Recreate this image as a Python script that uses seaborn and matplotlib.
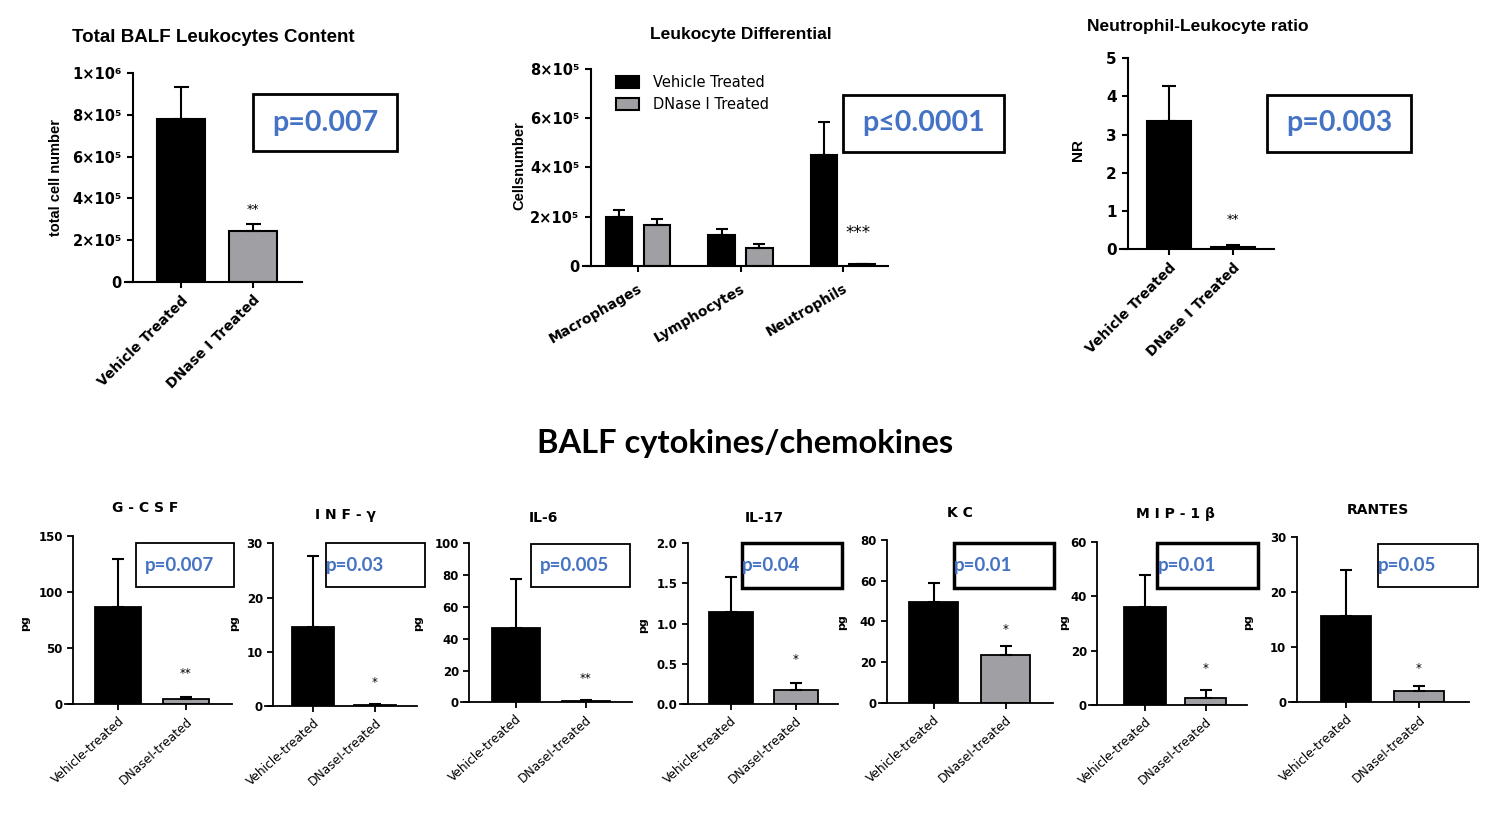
import matplotlib
matplotlib.use('Agg')
import numpy as np
import pandas as pd
import matplotlib.pyplot as plt
import seaborn as sns
from matplotlib.patches import Rectangle

# ------------------------------------------------------------------ data
groups = ['Vehicle Treated', 'DNase I Treated']
total_mean = [7.8e5, 2.45e5]
total_sem = [1.55e5, 0.31e5]
total_ticklabels = ['0', '2×10⁵', '4×10⁵', '6×10⁵', '8×10⁵', '1×10⁶']

cell_types = ['Macrophages', 'Lymphocytes', 'Neutrophils']
diff_vehicle = [2.0e5, 1.26e5, 4.5e5]
diff_vehicle_sem = [0.27e5, 0.25e5, 1.34e5]
diff_dnase = [1.67e5, 0.71e5, 0.05e5]
diff_dnase_sem = [0.22e5, 0.16e5, 0.03e5]
diff_ticklabels = ['0', '2×10⁵', '4×10⁵', '6×10⁵', '8×10⁵']

nr_mean = [3.36, 0.06]
nr_sem = [0.91, 0.04]

cyto_titles = ['G - C S F', 'I N F - γ', 'IL-6', 'IL-17', 'K C', 'M I P - 1 β', 'RANTES']
cyto_groups = ['Vehicle-treated', 'DNaseI-treated']
cyto_vehicle = [86.4, 14.6, 46.5, 1.15, 49.7, 36.0, 15.7]
cyto_vehicle_sem = [43.1, 13.1, 31.2, 0.43, 9.3, 11.9, 8.35]
cyto_dnase = [4.5, 0.2, 1.0, 0.17, 23.6, 2.5, 2.1]
cyto_dnase_sem = [2.0, 0.15, 0.5, 0.09, 4.3, 3.0, 0.86]
cyto_ymax = [150, 30, 100, 2.0, 80, 60, 30]
cyto_ystep = [50, 10, 20, 0.5, 20, 20, 10]
cyto_p = ['p=0.007', 'p=0.03', 'p=0.005', 'p=0.04', 'p=0.01', 'p=0.01', 'p=0.05']
cyto_stars = ['**', '*', '**', '*', '*', '*', '*']

BLACK = '#000000'
GRAY = '#a0a0a4'
PBLUE = '#4472c4'

W, H = 1500, 819

sns.set_style('ticks')
plt.rcParams['font.family'] = ['DejaVu Sans']
plt.rcParams['axes.linewidth'] = 1.5
for key in ['text.color', 'axes.labelcolor', 'xtick.color', 'ytick.color', 'axes.edgecolor']:
    plt.rcParams[key] = 'black'

fig = plt.figure(figsize=(W / 100, H / 100), dpi=100)


#************************************************** helpers *************************************************

def make_axes(yaxis_x, c0, s, x1, top, zero):
    '''axes placed in pixel coords, x-axis starts a little left of the y-axis'''
    x0 = yaxis_x - 8
    return fig.add_axes([x0 / W, 1 - zero / H, (x1 - x0) / W, (zero - top) / H])


def frame(ax, yaxis_x, c0, s, x1, top, zero, n=2):
    '''set x limits after seaborn so that bars sit where the reference has them'''
    x0 = yaxis_x - 8
    ax.set_xlim(-(c0 - x0) / s, n - 1 + (x1 - (c0 + s * (n - 1))) / s)
    sns.despine(ax=ax)
    ax.spines['left'].set_position(('data', -(c0 - yaxis_x) / s))
    ax.tick_params(length=4.5, width=1.5, color='black')


def p_box(x0, y0, x1, y1, text, size, lw, tx=None):
    fig.add_artist(Rectangle((x0 / W, 1 - y1 / H), (x1 - x0) / W, (y1 - y0) / H,
                             transform=fig.transFigure, fill=False, edgecolor='black', lw=lw))
    if tx is None:
        fig.text((x0 + x1) / 2 / W, 1 - (y0 + y1) / 2 / H, text, ha='center', va='center',
                 color=PBLUE, fontsize=size, fontweight='bold', family=['Lato', 'DejaVu Sans'])
    else:
        fig.text(tx / W, 1 - (y0 + y1) / 2 / H, text, ha='left', va='center',
                 color=PBLUE, fontsize=size, fontweight='bold', family=['Lato', 'DejaVu Sans'])


def ftext(x, y, text, **kw):
    fig.text(x / W, 1 - y / H, text, **kw)


def add_errors(ax, means, sems, cap):
    xs = [p.get_x() + p.get_width() / 2 for p in ax.patches[:len(means)]]
    ax.errorbar(xs, means, yerr=[np.zeros(len(means)), sems], fmt='none',
                ecolor='black', elinewidth=1.5, capsize=cap, capthick=1.5, zorder=1)
    return xs


def rotate_xlabels(ax, rot, size, weight):
    ax.set_xlabel('')
    ax.set_ylabel('')
    for lab in ax.get_xticklabels():
        lab.set_rotation(rot)
        lab.set_ha('right')
        lab.set_rotation_mode('anchor')
        lab.set_fontsize(size)
        lab.set_fontweight(weight)


#************************************************** total leukocytes ****************************************

spec1 = (133, 181, 72, 302, 73, 282)
ax1 = make_axes(*spec1)
df1 = pd.DataFrame({'group': groups, 'value': total_mean})
sns.barplot(data=df1, x='group', y='value', hue='group', palette=[BLACK, GRAY],
            width=0.67, edgecolor='black', linewidth=1.5, legend=False, ax=ax1)
xs = add_errors(ax1, total_mean, total_sem, 5.4)
frame(ax1, *spec1)
ax1.set_ylim(0, 1e6)
ax1.set_yticks(np.linspace(0, 1e6, 6))
ax1.set_yticklabels(total_ticklabels, fontsize=10.5, fontweight='bold')
rotate_xlabels(ax1, 45, 10, 'bold')
ax1.annotate('**', (xs[1], total_mean[1] + total_sem[1]), xytext=(0, 11),
             textcoords='offset points', ha='center', va='center', fontsize=9)
ftext(213, 37, 'Total BALF Leukocytes Content', ha='center', va='center',
      fontsize=13.5, fontweight='bold', family='Liberation Sans')
ftext(56, 177, 'total cell number', rotation=90, ha='center', va='center',
      fontsize=10.5, fontweight='bold', family='Liberation Sans')
p_box(253, 94, 397, 151, 'p=0.007', 20.5, 2)

#************************************************** leukocyte differential **********************************

spec2 = (590.7, 638, 102.5, 888, 69.3, 265.7)
ax2 = make_axes(*spec2)
df2 = pd.DataFrame({'cell': cell_types * 2,
                    'value': diff_vehicle + diff_dnase,
                    'treatment': [groups[0]] * 3 + [groups[1]] * 3})
sns.barplot(data=df2, x='cell', y='value', hue='treatment', palette=[BLACK, GRAY],
            width=0.74, gap=0.3, edgecolor='black', linewidth=1.5, ax=ax2)
xs2 = add_errors(ax2, diff_vehicle + diff_dnase, diff_vehicle_sem + diff_dnase_sem, 4.5)
frame(ax2, *spec2, n=3)
ax2.set_ylim(0, 8e5)
ax2.set_yticks(np.linspace(0, 8e5, 5))
ax2.set_yticklabels(diff_ticklabels, fontsize=10.5, fontweight='bold')
rotate_xlabels(ax2, 30, 10, 'bold')
ax2.tick_params(axis='x', pad=7)
ax2.legend(loc='upper left', bbox_to_anchor=(603 / W, 1 - 62 / H), bbox_transform=fig.transFigure,
           frameon=False, fontsize=10.5, handlelength=1.6, handleheight=0.9,
           labelspacing=0.45, handletextpad=0.9)
ax2.annotate('***', (xs2[5], diff_dnase[2] + diff_dnase_sem[2]), xytext=(-3, 22),
             textcoords='offset points', ha='center', va='center', fontsize=12)
ftext(741, 35, 'Leukocyte Differential', ha='center', va='center',
      fontsize=12.5, fontweight='bold', family='Liberation Sans')
ftext(519, 166, 'Cellsnumber', rotation=90, ha='center', va='center',
      fontsize=10.5, fontweight='bold', family='Liberation Sans')
p_box(843, 95, 1004, 152, 'p≤0.0001', 20.5, 2)

#************************************************** neutrophil ratio ****************************************

spec3 = (1128, 1169, 64, 1274, 58.3, 249.3)
ax3 = make_axes(*spec3)
df3 = pd.DataFrame({'group': groups, 'value': nr_mean})
sns.barplot(data=df3, x='group', y='value', hue='group', palette=[BLACK, GRAY],
            width=0.69, edgecolor='black', linewidth=1.5, legend=False, ax=ax3)
xs3 = add_errors(ax3, nr_mean, nr_sem, 5)
frame(ax3, *spec3)
ax3.set_ylim(0, 5)
ax3.set_yticks(range(6))
ax3.set_yticklabels([str(v) for v in range(6)], fontsize=11, fontweight='bold')
rotate_xlabels(ax3, 45, 10, 'bold')
ax3.annotate('**', (xs3[1], nr_mean[1] + nr_sem[1]), xytext=(0, 19),
             textcoords='offset points', ha='center', va='center', fontsize=9)
ftext(1198, 26, 'Neutrophil-Leukocyte ratio', ha='center', va='center',
      fontsize=12.5, fontweight='bold', family='Liberation Sans')
ftext(1078, 150, 'NR', rotation=90, ha='center', va='center',
      fontsize=11, fontweight='bold', family='Liberation Sans')
p_box(1267, 95, 1411, 152, 'p=0.003', 20.5, 2)

#************************************************** cytokines ***********************************************

ftext(745, 443, 'BALF cytokines/chemokines', ha='center', va='center',
      fontsize=23.5, fontweight='bold', family='Lato')

# layout of each small panel: y-axis x, first bar centre, spacing, x end, top, zero
frames = [(73.3, 118.3, 67.7, 232, 536, 704.3),
          (273.3, 313.3, 61.7, 416.7, 543.3, 706),
          (469.3, 515.7, 70, 632.3, 543.3, 702.3),
          (687.7, 730.7, 65, 838.3, 543.3, 704),
          (886.7, 933.7, 72, 1052.7, 540, 702.7),
          (1097.3, 1145, 60.7, 1246.7, 541.7, 705),
          (1296.7, 1346, 73, 1468.7, 537.3, 702.3)]
boxes = [(135.7, 542.7, 234.3, 587.3, 145, 1.3),
         (325.7, 542.7, 425, 587.3, 326, 1.3),
         (531, 544, 630, 587.3, 540, 1.3),
         (741.7, 543.3, 842.3, 587.7, 742, 2.5),
         (954, 542.7, 1054.3, 587.7, 954, 2.5),
         (1157.3, 543.3, 1258.3, 587.7, 1158, 2.5),
         (1378.3, 544, 1477.7, 587.3, 1378, 1.3)]
title_pos = [(145, 508), (345, 515), (543, 518), (764, 518), (960, 513), (1175, 514), (1378, 510)]
pg_pos = [(25, 623), (234, 623), (418, 623), (643, 625), (842, 622), (1064, 622), (1248, 622)]
star_off = [24, 22, 21, 24, 16, 22, 18]

for i in range(len(cyto_titles)):
    ax = make_axes(*frames[i])
    d = pd.DataFrame({'group': cyto_groups, 'value': [cyto_vehicle[i], cyto_dnase[i]]})
    sns.barplot(data=d, x='group', y='value', hue='group', palette=[BLACK, GRAY],
                width=0.68, edgecolor='black', linewidth=1.3, legend=False, ax=ax)
    xs = add_errors(ax, [cyto_vehicle[i], cyto_dnase[i]],
                    [cyto_vehicle_sem[i], cyto_dnase_sem[i]], 4.3)
    frame(ax, *frames[i])
    ax.tick_params(length=4, width=1.3)
    for sp in ax.spines.values():
        sp.set_linewidth(1.3)
    ax.set_ylim(0, cyto_ymax[i])
    ticks = np.arange(0, cyto_ymax[i] + cyto_ystep[i] / 2, cyto_ystep[i])
    ax.set_yticks(ticks)
    fmt = '{:.1f}' if cyto_ystep[i] < 1 else '{:.0f}'
    ax.set_yticklabels([fmt.format(t) for t in ticks], fontsize=8.5, fontweight='bold')
    rotate_xlabels(ax, 42, 8.8, 'normal')
    ax.annotate(cyto_stars[i], (xs[1], cyto_dnase[i] + cyto_dnase_sem[i]),
                xytext=(0, star_off[i] * 0.72), textcoords='offset points',
                ha='center', va='center', fontsize=8.5)
    ftext(*title_pos[i], cyto_titles[i], ha='center', va='center', fontsize=10, fontweight='bold')
    ftext(*pg_pos[i], 'pg', rotation=90, ha='center', va='center', fontsize=8, fontweight='bold')
    bx = boxes[i]
    p_box(bx[0], bx[1], bx[2], bx[3], cyto_p[i], 13.5, bx[5], tx=bx[4])

fig.savefig('out.png', dpi=100, facecolor='white')
